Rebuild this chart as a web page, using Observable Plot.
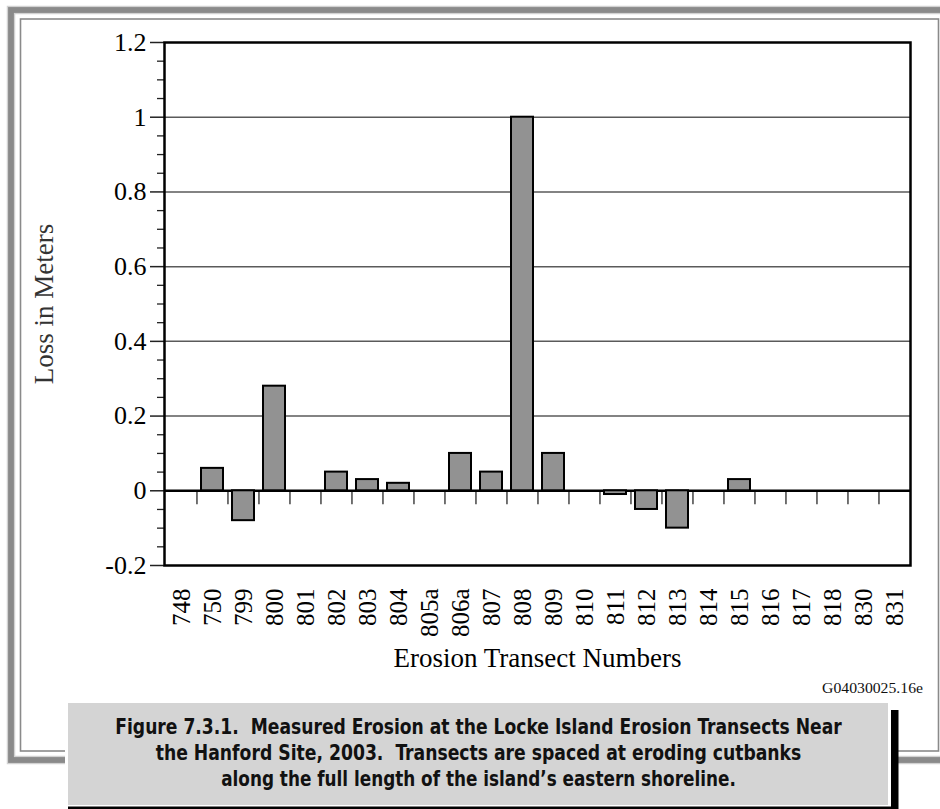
<!DOCTYPE html>
<html>
<head>
<meta charset="utf-8">
<script src="https://cdn.jsdelivr.net/npm/d3@7"></script>
<script src="https://cdn.jsdelivr.net/npm/@observablehq/plot@0.6"></script>
<style>
  html, body { margin: 0; padding: 0; background: #ffffff; }
  #wrap { position: relative; width: 940px; height: 809px; overflow: hidden; background: #ffffff; }
  #wrap > svg { position: absolute; left: 0; top: 0; }
</style>
</head>
<body>
<div id="wrap"></div>
<script>
// ---- data ----
const categories = ["748","750","799","800","801","802","803","804","805a","806a","807","808",
                    "809","810","811","812","813","814","815","816","817","818","830","831"];
const lossValues = [0, 0.06, -0.08, 0.28, 0, 0.05, 0.03, 0.02, 0, 0.10, 0.05, 1.00,
                    0.10, 0, -0.01, -0.05, -0.10, 0, 0.03, 0, 0, 0, 0, 0];
const yMajorTicks = [-0.2, 0, 0.2, 0.4, 0.6, 0.8, 1, 1.2];
const yTickLabels = ["-0.2", "0", "0.2", "0.4", "0.6", "0.8", "1", "1.2"];
const yMinorTicks = [-0.15, -0.1, -0.05, 0.05, 0.1, 0.15, 0.25, 0.3, 0.35, 0.45, 0.5, 0.55,
                     0.65, 0.7, 0.75, 0.85, 0.9, 0.95, 1.05, 1.1, 1.15];
const gridValues = [0.2, 0.4, 0.6, 0.8, 1];
const xTitle = "Erosion Transect Numbers";
const yTitle = "Loss in Meters";
const figureId = "G04030025.16e";
const captionLines = [
  "Figure 7.3.1.  Measured Erosion at the Locke Island Erosion Transects Near",
  "the Hanford Site, 2003.  Transects are spaced at eroding cutbanks",
  "along the full length of the island\u2019s eastern shoreline."
];

const data = categories.map((c, i) => ({transect: c, loss: lossValues[i]}));

// ---- layout ----
const W = 940, H = 809;
const plotH = 700;
const mL = 164, mR = 30, mT = 42, mB = 135;
const step = (W - mL - mR) / categories.length;
const serif = "'Liberation Serif', 'Times New Roman', Times, serif";

const wrap = document.getElementById("wrap");

// ---- decoration (page frame, caption) ----
const deco = d3.create("svg").attr("width", W).attr("height", H);
deco.append("rect").attr("x", 11).attr("y", 10).attr("width", W + 40).attr("height", 750)
  .attr("fill", "none").attr("stroke", "#d2d2d2").attr("stroke-width", 8.5);
deco.append("rect").attr("x", 11).attr("y", 10).attr("width", W + 40).attr("height", 750)
  .attr("fill", "none").attr("stroke", "#8a8a8a").attr("stroke-width", 5.8);
deco.append("rect").attr("x", 20.5).attr("y", 19).attr("width", 918).attr("height", 732)
  .attr("fill", "none").attr("stroke", "#8a8a8a").attr("stroke-width", 1.6);
deco.append("rect").attr("x", 65).attr("y", 700).attr("width", 833).attr("height", 109).attr("fill", "#ffffff");
deco.append("rect").attr("x", 68).attr("y", 703).attr("width", 820).attr("height", 102).attr("fill", "#d4d4d4");
deco.append("rect").attr("x", 891).attr("y", 710).attr("width", 7.5).attr("height", 99).attr("fill", "#000");
deco.append("rect").attr("x", 68).attr("y", 806.5).attr("width", 830).attr("height", 2.5).attr("fill", "#000");
wrap.appendChild(deco.node());

// caption lines: fit each line to its width in the reference with a horizontal scale
const capW = [727, 646, 515];
const capY = [734, 760, 786];
captionLines.forEach((t, i) => {
  const g = deco.append("g");
  const txt = g.append("text")
    .attr("x", 0).attr("y", 0)
    .attr("text-anchor", "middle")
    .style("white-space", "pre")
    .style("font-family", "'Liberation Sans Narrow', 'DejaVu Sans Condensed', 'Liberation Sans', sans-serif")
    .style("font-weight", "bold").style("font-size", "22px").attr("fill", "#111")
    .text(t);
  const natural = txt.node().getComputedTextLength() || capW[i];
  g.attr("transform", `translate(478.5,${capY[i]}) scale(${capW[i] / natural},1)`);
});
{
  const g = deco.append("g");
  const txt = g.append("text").attr("x", 0).attr("y", 0).attr("text-anchor", "end")
    .style("font-family", serif).style("font-size", "14.5px").attr("fill", "#111")
    .text(figureId);
  const natural = txt.node().getComputedTextLength() || 101;
  g.attr("transform", `translate(923,692.5) scale(${101 / natural},1)`);
}

// ---- chart ----
const chart = Plot.plot({
  width: W,
  height: plotH,
  marginLeft: mL, marginRight: mR, marginTop: mT, marginBottom: mB,
  style: {background: "transparent", fontFamily: serif, color: "#000", overflow: "visible"},
  x: {domain: categories, paddingInner: 0.3, paddingOuter: 0.15, label: null},
  y: {domain: [-0.2, 1.2], label: null},
  marks: [
    Plot.gridY(gridValues, {stroke: "#5a5a5a", strokeOpacity: 1, strokeWidth: 1.5}),
    Plot.ruleX(categories.slice(1), {x: d => d, y1: 0, y2: 0, insetBottom: -14, dx: -step / 2,
                                     stroke: "#444", strokeWidth: 1.5}),
    Plot.ruleY([0], {stroke: "#000", strokeWidth: 2.5}),
    Plot.barY(data, {x: "transect", y: "loss", fill: "#929292", stroke: "#000", strokeWidth: 2}),
    Plot.axisY(yMinorTicks, {tickSize: 7, tickFormat: () => "", label: null, stroke: "#222", strokeWidth: 1.3}),
    Plot.axisY(yMajorTicks, {tickSize: 14, tickPadding: 4, fontSize: 26, label: null,
                             tickFormat: d => yTickLabels[yMajorTicks.indexOf(d)],
                             stroke: "#222", strokeWidth: 1.5}),
    Plot.axisY([], {label: yTitle, labelAnchor: "center", labelArrow: "none", labelOffset: 131, fontSize: 27, fill: "#333"}),
    Plot.axisX(categories, {tickSize: 0, tickPadding: 23, tickRotate: -90, fontSize: 25, label: null}),
    Plot.axisX([], {label: xTitle, labelAnchor: "center", labelArrow: "none", labelOffset: 101, fontSize: 27}),
    Plot.frame({stroke: "#000", strokeWidth: 2.5})
  ]
});
wrap.appendChild(chart);
</script>
</body>
</html>
